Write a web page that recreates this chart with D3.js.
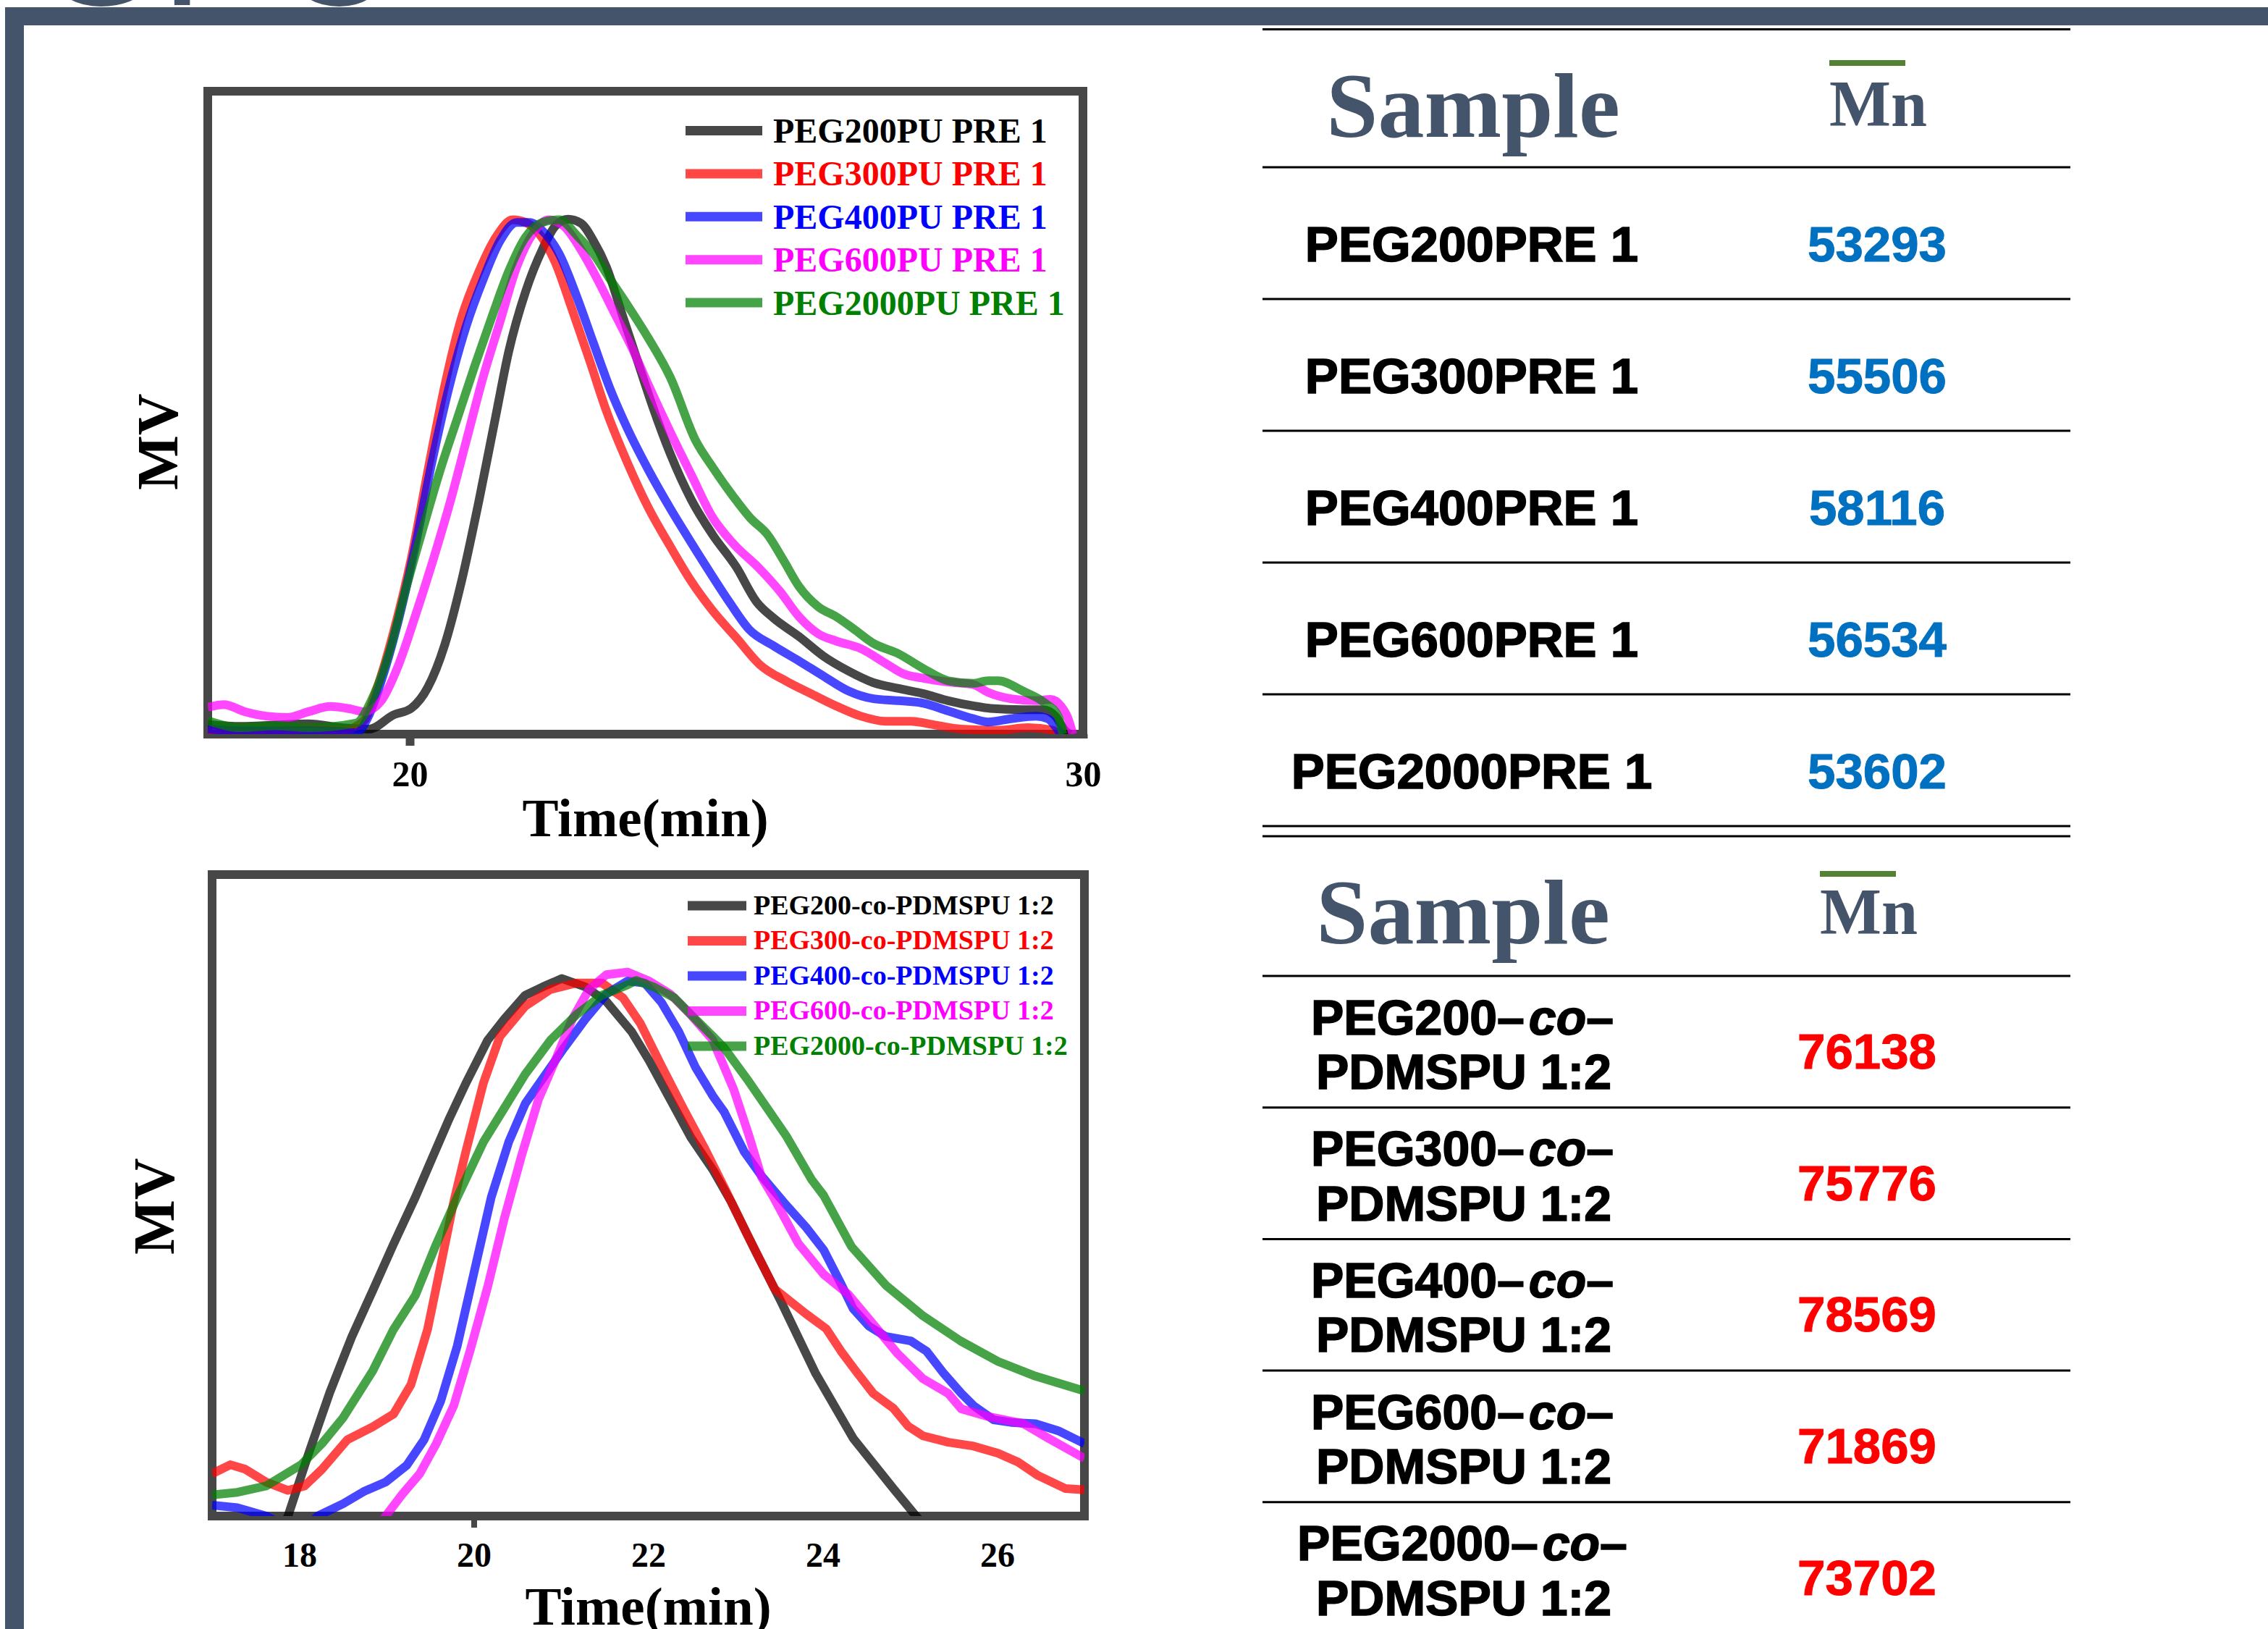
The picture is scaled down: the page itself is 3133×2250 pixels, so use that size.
<!DOCTYPE html>
<html>
<head>
<meta charset="utf-8">
<script src="https://cdn.jsdelivr.net/npm/d3@7"></script>
<style>
body { margin: 0; background: #fff; }
svg { display: block; }
.serif { font-family: "Liberation Serif", "Times New Roman", serif; font-weight: bold; }
.sans { font-family: "Liberation Sans", Arial, sans-serif; font-weight: bold; }
</style>
</head>
<body>
<svg id="fig" width="3133" height="2250"></svg>
<script>
// ---- GPC traces, [time (min), signal] ----
var peg200pu = [[17.0,1.5],[17.5,1.2],[18.0,1.4],[18.5,1.6],[19.0,1.0],[19.4,0.8],[19.76,3],[20.02,4],[20.27,7.3],[20.52,13.9],[20.77,23.8],[21.03,36.4],[21.28,49.6],[21.47,59.5],[21.72,68.8],[21.97,75.4],[22.16,79],[22.35,80.1],[22.54,79.5],[22.73,76.7],[22.92,72.7],[23.17,64.8],[23.36,58.8],[23.61,50.9],[23.87,43.6],[24.18,36.5],[24.5,31],[24.85,26],[25.15,20.6],[25.41,18],[25.78,15.2],[26.15,12.1],[26.52,9.8],[26.89,8.0],[27.26,7.1],[27.63,6.3],[28.0,5.2],[28.37,4.4],[28.63,4.0],[29.11,3.8],[29.41,3.8],[29.59,2.8],[29.74,0.5],[29.81,0]];
var peg300pu = [[17.0,0.6],[17.5,0.4],[18.0,0.3],[18.5,0.8],[19.0,0.6],[19.32,2.1],[19.5,6.7],[19.76,15.9],[20.02,27.2],[20.27,41.0],[20.52,54.2],[20.77,64.8],[21.03,72.0],[21.28,77.3],[21.53,80],[21.72,79.6],[21.91,78],[22.16,73.4],[22.41,66.1],[22.67,58.2],[22.92,50.3],[23.23,42.3],[23.55,35.1],[23.87,29.2],[24.18,23.8],[24.5,19.2],[24.85,15],[25.2,10.8],[25.6,8.2],[25.96,6.3],[26.33,4.4],[26.7,2.8],[27.07,2.0],[27.44,2.0],[27.81,1.4],[28.18,0.8],[28.74,0.6],[29.18,1.0],[29.55,0.6],[29.63,0]];
var peg400pu = [[17.0,0.8],[17.5,0.5],[18.0,0.5],[18.5,0.6],[19.0,0.4],[19.2,0.2],[19.38,2.6],[19.57,8],[19.82,17.2],[20.08,29.1],[20.33,42.3],[20.59,54.2],[20.84,63.5],[21.09,70.7],[21.34,76.7],[21.59,79.6],[21.78,79.6],[21.97,78.3],[22.22,74.7],[22.48,68.1],[22.73,60.8],[22.98,53.6],[23.23,47.6],[23.55,41],[23.87,35.1],[24.18,29.8],[24.5,24.5],[24.75,20.5],[25.04,16.3],[25.41,13.7],[25.78,11.4],[26.15,9.0],[26.52,6.7],[26.89,5.5],[27.26,5.2],[27.63,4.8],[28.0,3.6],[28.37,2.4],[28.59,1.9],[28.93,2.4],[29.3,2.8],[29.48,2.4],[29.59,1.2],[29.67,0]];
var peg600pu = [[17.0,4.2],[17.24,4.6],[17.55,3.5],[17.87,2.8],[18.18,2.6],[18.5,3.5],[18.82,4.3],[19.13,3.9],[19.32,3.5],[19.57,5.1],[19.82,10.4],[20.08,18.3],[20.33,26.5],[20.59,35.7],[20.84,45.6],[21.09,55.5],[21.34,64.1],[21.59,72.7],[21.84,78],[22.06,80],[22.29,79],[22.54,75.4],[22.79,70.7],[23.04,65.5],[23.3,60.1],[23.55,54.2],[23.87,47],[24.18,40.4],[24.5,33.7],[24.81,29.6],[25.2,25.7],[25.5,22.2],[25.78,18.3],[26.07,15.6],[26.33,14.5],[26.7,13.3],[27.07,11.0],[27.33,9.4],[27.63,8.7],[28.0,8.1],[28.37,7.7],[28.59,6.5],[28.93,5.5],[29.3,5.2],[29.52,5.4],[29.67,4.4],[29.78,2.4],[29.85,0]];
var peg2000pu = [[17.0,2.1],[17.5,1.0],[18.0,1.3],[18.5,1.0],[19.2,1.7],[19.45,5.7],[19.7,12.9],[19.95,22.9],[20.2,32.1],[20.46,41.3],[20.71,49.2],[20.96,57.1],[21.22,64.9],[21.47,72],[21.72,77.3],[21.97,79.6],[22.22,80],[22.48,77.6],[22.73,74.7],[22.98,70.7],[23.23,66.8],[23.55,61.5],[23.87,55.5],[24.25,45.6],[24.5,41.5],[24.81,36.9],[25.06,33.6],[25.31,31.1],[25.56,26.9],[25.78,23.0],[26.07,19.8],[26.33,18.3],[26.59,16.4],[26.89,14.1],[27.26,12.5],[27.63,10.2],[28.0,8.3],[28.37,7.9],[28.59,8.3],[28.74,8.3],[29.11,6.7],[29.44,4.8],[29.63,2.8],[29.7,0]];

var peg200co = [[17.75,-3],[17.87,0],[18.11,9.9],[18.35,19.3],[18.6,27.9],[18.84,35.1],[19.08,42.4],[19.33,49.7],[19.52,55.7],[19.72,62],[19.91,67.5],[20.16,74.2],[20.35,77.5],[20.59,81.2],[20.79,82.5],[21.01,83.8],[21.28,82.5],[21.52,80.2],[21.81,75.5],[22.01,71],[22.25,65],[22.49,59],[22.74,54],[22.95,49],[23.24,41],[23.52,33.5],[23.92,22.2],[24.35,12.1],[24.81,4.3],[25.07,0],[25.2,-2]];
var peg300co = [[17.0,6.6],[17.21,8.0],[17.38,7.3],[17.62,5.3],[17.87,4.0],[18.06,4.7],[18.26,7.3],[18.55,11.9],[18.84,13.9],[19.08,15.9],[19.28,20.5],[19.47,29.1],[19.62,39.0],[19.77,49.0],[19.91,56.9],[20.11,67.5],[20.3,74.8],[20.59,79.5],[20.88,82.1],[21.18,83.1],[21.47,83.1],[21.71,80.8],[21.91,76.8],[22.15,70.2],[22.4,63.6],[22.64,57.5],[22.88,51],[23.13,44],[23.45,35.4],[23.81,31.5],[24.04,29.2],[24.21,25.7],[24.38,22.6],[24.58,19.1],[24.81,16.8],[24.98,14.0],[25.15,12.5],[25.44,11.5],[25.73,10.9],[26.01,9.8],[26.24,8.4],[26.47,6.3],[26.78,4.3],[27.0,4.1]];
var peg400co = [[17.0,1.7],[17.29,1.3],[17.62,0],[17.9,-2],[18.1,-1.5],[18.21,0],[18.5,1.9],[18.75,3.9],[18.99,5.3],[19.23,7.9],[19.43,11.9],[19.62,17.9],[19.81,26.5],[20.01,38.4],[20.2,49.7],[20.4,58.3],[20.59,64.3],[20.79,68.2],[21.03,72.9],[21.28,77.5],[21.52,81.4],[21.76,83.4],[21.96,83.1],[22.15,80.1],[22.35,75.5],[22.54,70],[22.74,65.5],[22.87,63],[23.1,56.8],[23.3,53],[23.58,48.5],[23.81,45],[24.01,41.5],[24.21,36.2],[24.35,32.3],[24.53,29.6],[24.72,28.0],[25.01,27.3],[25.19,25.7],[25.39,22.2],[25.59,19.1],[25.73,17.2],[25.96,15.0],[26.16,14.6],[26.44,14.4],[26.7,13.3],[27.0,11.3]];
var peg600co = [[18.8,-3],[18.99,0],[19.18,3.4],[19.38,6.6],[19.57,11.3],[19.77,17.2],[19.96,25.9],[20.16,35.8],[20.35,46.4],[20.55,56.3],[20.74,64.9],[20.93,70.9],[21.13,77.5],[21.32,82.1],[21.52,84.4],[21.76,84.8],[22.01,83.4],[22.25,81.4],[22.49,78.1],[22.74,74.2],[22.98,66.5],[23.15,59.5],[23.3,52.8],[23.44,49.6],[23.72,42.5],[24.01,37.7],[24.29,34.6],[24.58,29.9],[24.86,25.3],[25.15,21.4],[25.44,19.1],[25.59,16.7],[25.87,15.6],[26.3,14.4],[26.59,12.1],[27.0,9.0]];
var peg2000co = [[17.0,3.3],[17.29,3.7],[17.62,4.7],[18.02,8.0],[18.26,11.3],[18.5,15.3],[18.84,22.6],[19.08,29.1],[19.33,34.4],[19.57,42.4],[19.81,49.7],[20.11,58.3],[20.35,63.6],[20.59,68.9],[20.88,74.2],[21.18,78.2],[21.47,81.2],[21.76,82.8],[21.86,83.5],[22.06,82.5],[22.3,80.8],[22.54,77.5],[22.74,74.8],[22.87,73],[23.15,67.8],[23.58,59.3],[23.87,52.5],[24.01,50],[24.33,42],[24.73,35.9],[25.15,31.2],[25.58,27.3],[26.01,24.1],[26.44,21.8],[27.0,19.5]];

var topLabels = ["PEG200PU PRE 1", "PEG300PU PRE 1", "PEG400PU PRE 1", "PEG600PU PRE 1", "PEG2000PU PRE 1"];
var bottomLabels = ["PEG200-co-PDMSPU 1:2", "PEG300-co-PDMSPU 1:2", "PEG400-co-PDMSPU 1:2", "PEG600-co-PDMSPU 1:2", "PEG2000-co-PDMSPU 1:2"];
var seriesColors = ["#000000", "#ff0000", "#0000ff", "#ff00ff", "#008000"];
var topTicks = [20, 25, 30];
var bottomTicks = [18, 20, 22, 24, 26];

// ---- table values ----
var preSamples = ["PEG200PRE 1", "PEG300PRE 1", "PEG400PRE 1", "PEG600PRE 1", "PEG2000PRE 1"];
var preMn = [53293, 55506, 58116, 56534, 53602];
var coPegs = ["PEG200", "PEG300", "PEG400", "PEG600", "PEG2000"];
var coMn = [76138, 75776, 78569, 71869, 73702];

var svg = d3.select("#fig");
var slate = "#44546a";
var frameColor = "#474747";

// cut-off title at the very top, then the slate border over it
svg.append("text")
    .attr("x", "48 222 380")
    .attr("y", 7)
    .style("font-family", "'Liberation Sans', Arial, sans-serif")
    .style("font-size", "230px")
    .attr("fill", slate)
    .text("GPC");
svg.append("rect").attr("x", 7).attr("y", 10).attr("width", 3133).attr("height", 25).attr("fill", slate);
svg.append("rect").attr("x", 7).attr("y", 10).attr("width", 26).attr("height", 2250).attr("fill", slate);

function drawPanel(cfg, id) {
  var x = d3.scaleLinear().domain(cfg.domain).range([cfg.left, cfg.right]);
  var y = d3.scaleLinear().domain([0, 100]).range([cfg.bottom, cfg.top]);
  var g = svg.append("g");

  g.append("rect")
      .attr("x", cfg.left).attr("y", cfg.top)
      .attr("width", cfg.right - cfg.left).attr("height", cfg.bottom - cfg.top)
      .attr("fill", "none").attr("stroke", frameColor).attr("stroke-width", 12);

  var ax = g.append("g")
      .attr("transform", "translate(0," + cfg.bottom + ")")
      .call(d3.axisBottom(x).tickValues(cfg.ticks).tickSize(cfg.tickLen)
        .tickFormat(function(d) { return cfg.labelled.indexOf(d) >= 0 ? d : ""; }));
  ax.select(".domain").remove();
  ax.selectAll(".tick line")
      .attr("stroke", frameColor).attr("stroke-width", cfg.tickWidth)
      .attr("y2", function(d) { return d === cfg.bigTick ? cfg.tickLen + 10 : cfg.tickLen; });
  ax.selectAll(".tick text")
      .attr("class", "serif").attr("fill", "#000")
      .attr("y", cfg.tickTextY).attr("dy", 0)
      .style("font-size", cfg.tickFont + "px");

  g.append("text").attr("class", "serif")
      .attr("x", (cfg.left + cfg.right) / 2).attr("y", cfg.titleY)
      .attr("text-anchor", "middle").style("font-size", "75px")
      .text("Time(min)");
  g.append("text").attr("class", "serif")
      .attr("transform", "translate(" + cfg.mvX + "," + cfg.mvY + ") rotate(-90)")
      .attr("text-anchor", "middle").style("font-size", "80px")
      .text("MV");

  svg.append("clipPath").attr("id", id)
    .append("rect")
      .attr("x", cfg.left).attr("y", cfg.top)
      .attr("width", cfg.right - cfg.left).attr("height", cfg.bottom - cfg.top);

  var line = d3.line()
      .x(function(d) { return x(d[0]); })
      .y(function(d) { return y(d[1]); })
      .curve(cfg.curve);

  g.append("g").attr("clip-path", "url(#" + id + ")")
    .selectAll("path")
    .data(cfg.series)
    .enter().append("path")
      .attr("d", line)
      .attr("fill", "none")
      .attr("stroke", function(d, i) { return seriesColors[i]; })
      .attr("stroke-opacity", 0.72)
      .attr("stroke-width", 12)
      .attr("stroke-linejoin", "round");

  var leg = g.append("g");
  cfg.labels.forEach(function(lab, i) {
    var ly = cfg.legY + i * cfg.legStep;
    leg.append("line")
        .attr("x1", cfg.legX1).attr("x2", cfg.legX2).attr("y1", ly).attr("y2", ly)
        .attr("stroke", seriesColors[i]).attr("stroke-opacity", 0.72).attr("stroke-width", 13);
    leg.append("text").attr("class", "serif")
        .attr("x", cfg.legTextX).attr("y", ly + cfg.legDy)
        .attr("fill", seriesColors[i]).style("font-size", cfg.legFont + "px")
        .text(lab);
  });
}

drawPanel({
  domain: [17, 30], left: 287, right: 1496, top: 126, bottom: 1014,
  ticks: topTicks, labelled: [20, 30], bigTick: 20, tickLen: 6, tickWidth: 12,
  tickTextY: 72, tickFont: 50, titleY: 1155, mvX: 245, mvY: 610,
  series: [peg200pu, peg300pu, peg400pu, peg600pu, peg2000pu],
  curve: d3.curveMonotoneX, labels: topLabels,
  legY: 180.5, legStep: 59.4, legX1: 947, legX2: 1053, legTextX: 1068, legDy: 16.5, legFont: 48
}, "clipTop");

drawPanel({
  domain: [17, 27], left: 293, right: 1498, top: 1208, bottom: 2094,
  ticks: bottomTicks, labelled: bottomTicks, bigTick: 20, tickLen: 6, tickWidth: 8,
  tickTextY: 70, tickFont: 48, titleY: 2244, mvX: 240, mvY: 1666,
  series: [peg200co, peg300co, peg400co, peg600co, peg2000co],
  curve: d3.curveLinear, labels: bottomLabels,
  legY: 1251, legStep: 48.5, legX1: 950, legX2: 1031, legTextX: 1041, legDy: 11.5, legFont: 38
}, "clipBottom");

// ---- tables ----
var tbl = svg.append("g");
var tx1 = 1744, tx2 = 2860;

function hline(yy) {
  tbl.append("line").attr("x1", tx1).attr("x2", tx2).attr("y1", yy).attr("y2", yy)
      .attr("stroke", "#000").attr("stroke-width", 3);
}

function header(sampleX, sampleY, mnX, mnY, barY) {
  tbl.append("text").attr("class", "serif")
      .attr("x", sampleX).attr("y", sampleY).attr("text-anchor", "middle")
      .attr("fill", slate).style("font-size", "128px").text("Sample");
  tbl.append("text").attr("class", "serif")
      .attr("x", mnX).attr("y", mnY)
      .attr("fill", slate).style("font-size", "90px").text("Mn");
  tbl.append("rect").attr("x", mnX).attr("y", barY).attr("width", 105).attr("height", 8)
      .attr("fill", "#548235");
}

// heavy cell text: bold face thickened with a thin outline of the same colour
function cellText(xx, yy, colour, size) {
  return tbl.append("text").attr("class", "sans")
      .attr("x", xx).attr("y", yy).attr("text-anchor", "middle")
      .attr("fill", colour).attr("stroke", colour).attr("stroke-width", 1.6)
      .style("font-size", size + "px");
}

// upper table
var preRow = d3.scaleLinear().domain([0, 5]).range([231, 1141]);
hline(40.5);
d3.range(6).forEach(function(i) { hline(preRow(i)); });
hline(1155);
header(2035, 189, 2527, 174, 83);
preSamples.forEach(function(s, i) {
  var base = preRow(i) + 130;
  cellText(2033, base, "#000", 69).text(s);
  cellText(2593, base, "#0070c0", 69).attr("stroke-width", 1).text(preMn[i]);
});

// lower table
var coRow = d3.scaleLinear().domain([0, 1]).range([1348, 1529.7]);
d3.range(5).forEach(function(i) { hline(coRow(i)); });
header(2021, 1303, 2514, 1290, 1203);
coPegs.forEach(function(p, i) {
  var top = coRow(i);
  var t1 = cellText(2020, top + 80.5, "#000", 68);
  t1.append("tspan").text(p + "\u2013");
  t1.append("tspan").attr("font-style", "italic").attr("dx", 6).text("co");
  t1.append("tspan").text("\u2013");
  cellText(2022, top + 156, "#000", 68).text("PDMSPU 1:2");
  cellText(2579, top + 128, "#ff0000", 69).attr("stroke-width", 1).text(coMn[i]);
});
</script>
</body>
</html>
